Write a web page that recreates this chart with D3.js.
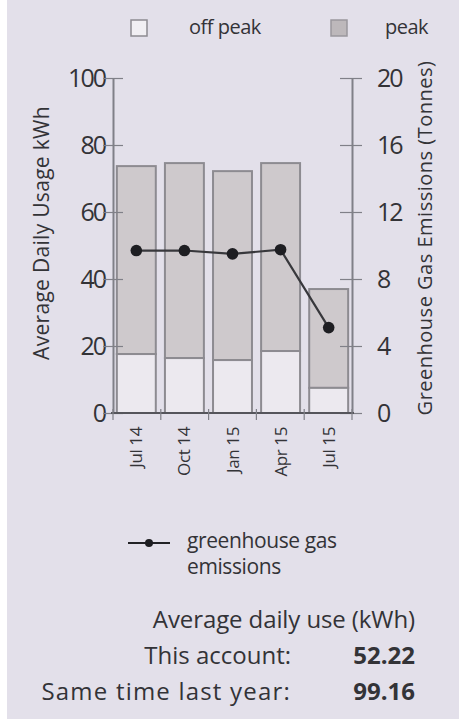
<!DOCTYPE html>
<html>
<head>
<meta charset="utf-8">
<script src="https://cdn.jsdelivr.net/npm/d3@7"></script>
<style>
  html, body { margin: 0; padding: 0; background: #ffffff; }
  svg { display: block; }
  text { font-family: "Open Sans", "DejaVu Sans", sans-serif; fill: #333337; }
</style>
</head>
<body>
<svg id="chart" width="465" height="719"></svg>
<script>
// Quarterly electricity usage (kWh/day) split into off-peak and peak, plus emissions (tonnes)
const periods = ["Jul 14", "Oct 14", "Jan 15", "Apr 15", "Jul 15"];
const offPeak = [17.6, 16.4, 15.8, 18.5, 7.5];
const peak = [56.1, 58.2, 56.4, 56.1, 29.5];
const emissions = [9.7, 9.7, 9.5, 9.75, 5.1];
const usageTicks = [0, 20, 40, 60, 80, 100];
const emissionTicks = [0, 4, 8, 12, 16, 20];
const thisAccount = "52.22";
const lastYear = "99.16";

const svg = d3.select("#chart");
const W = 465, H = 719;

// panel background
svg.append("rect").attr("x", 7).attr("y", 0).attr("width", 452).attr("height", H)
  .attr("fill", "#e3e0ea");

const margin = { left: 113, right: 352, top: 78, bottom: 413 };

const x = d3.scaleBand().domain(periods).range([margin.left, margin.right])
  .paddingInner(0.19).paddingOuter(0.08);
const xEdges = d3.scaleLinear().domain([0, periods.length]).range([margin.left, margin.right]);
const yL = d3.scaleLinear().domain([0, 100]).range([margin.bottom, margin.top]);
const yR = d3.scaleLinear().domain([0, 20]).range([margin.bottom, margin.top]);

const axisColor = "#808088";

// stacked bars: off peak on the bottom, peak on top
const rows = periods.map((p, i) => ({ p, off: offPeak[i], pk: peak[i] }));
const g = svg.append("g");
g.selectAll("rect.pk").data(rows).join("rect").attr("class", "pk")
  .attr("x", d => x(d.p)).attr("width", x.bandwidth())
  .attr("y", d => yL(d.off + d.pk)).attr("height", d => yL(d.off) - yL(d.off + d.pk))
  .attr("fill", "#cec9cc").attr("stroke", "#8d8b91").attr("stroke-width", 2);
g.selectAll("rect.off").data(rows).join("rect").attr("class", "off")
  .attr("x", d => x(d.p)).attr("width", x.bandwidth())
  .attr("y", d => yL(d.off)).attr("height", d => yL(0) - yL(d.off))
  .attr("fill", "#ece9ef").attr("stroke", "#8d8b91").attr("stroke-width", 2);

// left axis
const left = svg.append("g").attr("transform", `translate(${margin.left},0)`)
  .call(d3.axisLeft(yL).tickValues(usageTicks).tickSize(0).tickPadding(8));
left.select(".domain").attr("stroke", axisColor).attr("stroke-width", 2);
left.selectAll(".tick line").remove();
left.selectAll(".tick").append("line").attr("x1", -10).attr("x2", 10)
  .attr("stroke", axisColor).attr("stroke-width", 1.2);
left.selectAll(".tick text").style("font-size", "25px").attr("x", -8)
  .style("letter-spacing", "-2px").attr("fill", "#333337");

// right axis
const right = svg.append("g").attr("transform", `translate(${margin.right},0)`)
  .call(d3.axisRight(yR).tickValues(emissionTicks).tickSize(0).tickPadding(8));
right.select(".domain").attr("stroke", axisColor).attr("stroke-width", 2);
right.selectAll(".tick line").remove();
right.selectAll(".tick").append("line").attr("x1", -12).attr("x2", 10)
  .attr("stroke", axisColor).attr("stroke-width", 1.2);
right.selectAll(".tick text").style("font-size", "25px").attr("x", 25)
  .style("letter-spacing", "-2px").attr("fill", "#333337");

// baseline with ticks between categories
const bottom = svg.append("g");
bottom.append("line").attr("x1", margin.left - 2).attr("x2", margin.right + 2)
  .attr("y1", yL(0)).attr("y2", yL(0)).attr("stroke", "#55555b").attr("stroke-width", 2);
bottom.selectAll("line.sep").data(d3.range(periods.length + 1)).join("line").attr("class", "sep")
  .attr("x1", d => xEdges(d)).attr("x2", d => xEdges(d))
  .attr("y1", yL(0) - 4).attr("y2", yL(0) + 7)
  .attr("stroke", axisColor).attr("stroke-width", 1.2);
bottom.selectAll("text").data(periods).join("text")
  .attr("transform", d => `translate(${x(d) + x.bandwidth() / 2 + 6},${yL(0) + 14}) rotate(-90)`)
  .attr("text-anchor", "end").style("font-size", "17px").style("letter-spacing", "-0.4px")
  .text(d => d);

// emissions line
const line = d3.line().x((d, i) => x(periods[i]) + x.bandwidth() / 2).y(d => yR(d));
svg.append("path").datum(emissions).attr("d", line)
  .attr("fill", "none").attr("stroke", "#38383c").attr("stroke-width", 2.2);
svg.selectAll("circle.em").data(emissions).join("circle").attr("class", "em")
  .attr("cx", (d, i) => x(periods[i]) + x.bandwidth() / 2).attr("cy", d => yR(d))
  .attr("r", 5.8).attr("fill", "#1e1e22");

// axis titles
svg.append("text").attr("transform", "translate(49,233) rotate(-90)")
  .attr("text-anchor", "middle").style("font-size", "21px").style("letter-spacing", "0.3px")
  .text("Average Daily Usage kWh");
svg.append("text").attr("transform", "translate(432,238) rotate(-90)")
  .attr("text-anchor", "middle").style("font-size", "20px").style("letter-spacing", "0.5px")
  .text("Greenhouse Gas Emissions (Tonnes)");

// legend: tariff
const leg = svg.append("g");
leg.append("rect").attr("x", 131).attr("y", 20).attr("width", 16).attr("height", 16)
  .attr("fill", "#f1eff3").attr("stroke", "#8d8b91").attr("stroke-width", 1.5);
leg.append("text").attr("x", 189).attr("y", 34).style("font-size", "20px")
  .style("letter-spacing", "-0.5px").text("off peak");
leg.append("rect").attr("x", 331).attr("y", 20).attr("width", 16).attr("height", 16)
  .attr("fill", "#bdb8bb").attr("stroke", "#9a979d").attr("stroke-width", 1.5);
leg.append("text").attr("x", 385).attr("y", 34).style("font-size", "20px")
  .style("letter-spacing", "-0.5px").text("peak");

// legend: emissions
const leg2 = svg.append("g");
leg2.append("line").attr("x1", 128).attr("x2", 170).attr("y1", 543).attr("y2", 543)
  .attr("stroke", "#222226").attr("stroke-width", 2);
leg2.append("circle").attr("cx", 149).attr("cy", 543).attr("r", 4).attr("fill", "#1e1e22");
const legText = leg2.append("text").style("font-size", "21px").style("letter-spacing", "-0.4px");
legText.append("tspan").attr("x", 187).attr("y", 548).text("greenhouse gas");
legText.append("tspan").attr("x", 187).attr("y", 574).text("emissions");

// summary
const sum = svg.append("g").style("font-size", "24px");
sum.append("text").attr("x", 415).attr("y", 628).attr("text-anchor", "end")
  .style("letter-spacing", "-0.1px").text("Average daily use (kWh)");
sum.append("text").attr("x", 291).attr("y", 664).attr("text-anchor", "end")
  .text("This account:");
sum.append("text").attr("x", 415).attr("y", 664).attr("text-anchor", "end")
  .style("font-weight", "bold").text(thisAccount);
sum.append("text").attr("x", 291).attr("y", 700).attr("text-anchor", "end")
  .style("letter-spacing", "1.2px").text("Same time last year:");
sum.append("text").attr("x", 415).attr("y", 700).attr("text-anchor", "end")
  .style("font-weight", "bold").text(lastYear);
</script>
</body>
</html>
